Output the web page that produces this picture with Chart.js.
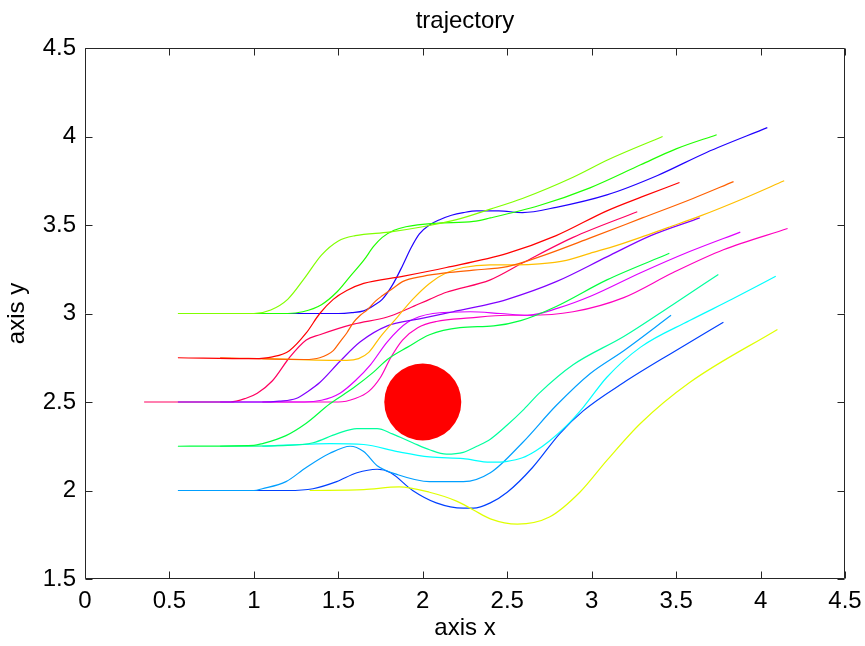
<!DOCTYPE html>
<html><head><meta charset="utf-8">
<script src="https://cdn.jsdelivr.net/npm/chart.js@4"></script>
<style>html,body{margin:0;padding:0;background:#fff}#wrap{width:865px;height:646px}</style>
</head><body><div id="wrap"><canvas id="c" width="865" height="646"></canvas></div>
<script>
const titleText = 'trajectory';
const xLabel = 'axis x';
const yLabel = 'axis y';
const xTicks = [0, 0.5, 1, 1.5, 2, 2.5, 3, 3.5, 4, 4.5];
const yTicks = [1.5, 2, 2.5, 3, 3.5, 4, 4.5];
const obstacleX = [2.0];
const obstacleY = [2.5];

const trajRedX = [0.55,1.0,1.11,1.21,1.31,1.39,1.47,1.55,1.65,1.88,2.14,2.5,2.79,3.09,3.3,3.52];
const trajRedY = [2.75,2.745,2.755,2.79,2.89,3.0,3.08,3.13,3.17,3.21,3.26,3.34,3.44,3.58,3.66,3.74];
const trajOrangeX = [0.8,1.3,1.39,1.47,1.51,1.55,1.59,1.63,1.67,1.72,1.76,1.82,1.88,2.0,2.14,2.3,2.5,2.69,3.0,3.3,3.6,3.84];
const trajOrangeY = [2.75,2.74,2.75,2.79,2.84,2.89,2.95,2.99,3.02,3.07,3.10,3.14,3.18,3.21,3.23,3.245,3.265,3.32,3.43,3.54,3.65,3.745];
const trajAmberX = [1.05,1.55,1.62,1.68,1.75,1.85,1.94,2.04,2.14,2.24,2.4,2.55,2.69,2.85,2.99,3.15,3.29,3.45,3.64,3.9,4.14];
const trajAmberY = [2.745,2.735,2.745,2.78,2.87,2.98,3.08,3.17,3.23,3.26,3.275,3.275,3.28,3.30,3.34,3.385,3.43,3.485,3.55,3.65,3.75];
const trajYellowX = [1.33,1.65,1.86,2.04,2.2,2.3,2.4,2.56,2.75,2.93,3.09,3.29,3.58,4.10];
const trajYellowY = [2.0,2.005,2.02,1.99,1.94,1.89,1.84,1.81,1.85,1.99,2.17,2.38,2.61,2.91];
const trajLimeX = [0.55,1.0,1.1,1.2,1.3,1.4,1.5,1.6,1.8,2.0,2.2,2.4,2.59,2.89,3.1,3.42];
const trajLimeY = [3.0,3.0,3.02,3.08,3.2,3.33,3.41,3.44,3.46,3.49,3.53,3.59,3.65,3.77,3.87,4.0];
const trajGreenX = [0.8,1.2,1.29,1.4,1.49,1.57,1.65,1.71,1.76,1.83,1.9,2.08,2.3,2.4,2.69,2.99,3.29,3.5,3.74];
const trajGreenY = [3.0,3.0,3.01,3.05,3.12,3.21,3.30,3.38,3.43,3.47,3.49,3.51,3.52,3.54,3.61,3.71,3.84,3.93,4.01];
const trajSpringX = [0.55,1.0,1.05,1.19,1.31,1.45,1.59,1.71,1.79,1.91,2.04,2.22,2.42,2.58,2.79,3.09,3.46];
const trajSpringY = [2.25,2.255,2.265,2.31,2.38,2.49,2.58,2.67,2.74,2.81,2.88,2.92,2.93,2.96,3.04,3.19,3.34];
const trajAquaX = [0.8,1.2,1.35,1.49,1.61,1.73,1.82,1.94,2.04,2.14,2.24,2.32,2.40,2.50,2.60,2.69,2.89,3.19,3.48,3.75];
const trajAquaY = [2.25,2.255,2.27,2.32,2.35,2.35,2.32,2.27,2.23,2.205,2.215,2.25,2.29,2.37,2.46,2.55,2.71,2.87,3.05,3.22];
const trajCyanX = [1.05,1.45,1.65,1.85,2.04,2.24,2.40,2.50,2.59,2.67,2.75,2.85,2.95,3.09,3.29,3.58,3.83,4.09];
const trajCyanY = [2.25,2.265,2.26,2.22,2.19,2.18,2.16,2.165,2.185,2.225,2.28,2.365,2.47,2.64,2.81,2.96,3.08,3.21];
const trajAzureX = [0.55,1.0,1.05,1.19,1.31,1.45,1.57,1.65,1.73,1.85,2.04,2.24,2.40,2.59,2.79,2.99,3.19,3.47];
const trajAzureY = [2.0,2.0,2.01,2.05,2.13,2.21,2.25,2.22,2.14,2.09,2.05,2.05,2.10,2.27,2.48,2.66,2.79,2.99];
const trajBlueX = [0.8,1.2,1.35,1.49,1.61,1.73,1.81,1.94,2.08,2.24,2.30,2.40,2.50,2.65,2.81,2.95,3.19,3.48,3.78];
const trajBlueY = [2.0,2.0,2.01,2.05,2.10,2.12,2.10,2.0,1.93,1.90,1.90,1.93,1.99,2.13,2.32,2.45,2.61,2.78,2.95];
const trajIndigoX = [1.05,1.5,1.58,1.65,1.71,1.76,1.82,1.88,1.93,1.98,2.04,2.10,2.17,2.24,2.32,2.45,2.59,2.79,3.09,3.39,3.68,4.04];
const trajIndigoY = [3.0,3.0,3.005,3.015,3.045,3.08,3.16,3.27,3.37,3.45,3.50,3.53,3.555,3.57,3.58,3.58,3.57,3.60,3.67,3.78,3.91,4.05];
const trajVioletX = [0.55,1.05,1.15,1.25,1.32,1.39,1.51,1.63,1.79,1.98,2.18,2.38,2.50,2.79,3.09,3.35,3.64];
const trajVioletY = [2.5,2.5,2.505,2.52,2.56,2.61,2.73,2.84,2.93,2.97,3.01,3.05,3.08,3.18,3.32,3.44,3.54];
const trajMagentaX = [0.8,1.3,1.4,1.51,1.6,1.69,1.79,1.91,2.06,2.28,2.46,2.62,2.8,3.0,3.29,3.58,3.88];
const trajMagentaY = [2.5,2.5,2.51,2.55,2.62,2.71,2.84,2.95,3.0,3.01,3.0,2.99,3.03,3.10,3.23,3.35,3.46];
const trajRoseX = [1.05,1.5,1.6,1.68,1.75,1.81,1.88,1.97,2.08,2.28,2.50,2.62,2.89,3.19,3.48,3.78,4.16];
const trajRoseY = [2.5,2.5,2.52,2.56,2.64,2.75,2.85,2.92,2.955,2.975,2.99,2.99,3.01,3.09,3.23,3.36,3.48];
const trajCrimsonX = [0.35,0.86,0.95,1.02,1.11,1.21,1.31,1.39,1.59,1.79,1.92,2.04,2.14,2.40,2.59,2.89,3.27];
const trajCrimsonY = [2.5,2.5,2.52,2.55,2.62,2.75,2.85,2.88,2.94,2.98,3.03,3.08,3.12,3.19,3.285,3.43,3.575];

const trajectories = [
  [trajRedX, trajRedY, '#ff0000'],
  [trajOrangeX, trajOrangeY, '#ff6000'],
  [trajAmberX, trajAmberY, '#ffbf00'],
  [trajYellowX, trajYellowY, '#dfff00'],
  [trajLimeX, trajLimeY, '#80ff00'],
  [trajGreenX, trajGreenY, '#20ff00'],
  [trajSpringX, trajSpringY, '#00ff40'],
  [trajAquaX, trajAquaY, '#00ff9f'],
  [trajCyanX, trajCyanY, '#00ffff'],
  [trajAzureX, trajAzureY, '#009fff'],
  [trajBlueX, trajBlueY, '#0040ff'],
  [trajIndigoX, trajIndigoY, '#2000ff'],
  [trajVioletX, trajVioletY, '#8000ff'],
  [trajMagentaX, trajMagentaY, '#df00ff'],
  [trajRoseX, trajRoseY, '#ff00bf'],
  [trajCrimsonX, trajCrimsonY, '#ff0060']
];

const FONT = '"Liberation Sans", Arial, Helvetica, sans-serif';
Chart.defaults.font.family = FONT;
Chart.defaults.color = '#000';

const datasets = trajectories.map(([xs, ys, c]) => ({
  type: 'line',
  data: xs.map((x, i) => ({x, y: ys[i]})),
  borderColor: c,
  backgroundColor: c,
  borderWidth: 1.2,
  pointRadius: 0,
  fill: false,
  cubicInterpolationMode: 'monotone'
}));
datasets.push({
  type: 'scatter',
  data: obstacleX.map((x, i) => ({x, y: obstacleY[i]})),
  backgroundColor: '#ff0000',
  borderWidth: 0,
  pointRadius: 38.5,
  pointHoverRadius: 38.5
});

const framePlugin = {
  id: 'frame',
  afterDatasetsDraw(chart) {
    const {ctx, chartArea: a, scales} = chart;
    const xs = scales.x, ys = scales.y;
    const L = Math.round(a.left) + 0.5, R = Math.round(a.right) - 0.5;
    const T = Math.round(a.top) + 0.5, B = Math.round(a.bottom) - 0.5;
    ctx.save();
    ctx.strokeStyle = '#262626';
    ctx.lineWidth = 1;
    ctx.beginPath();
    ctx.moveTo(L, T); ctx.lineTo(R, T); ctx.lineTo(R, B); ctx.lineTo(L, B); ctx.closePath();
    xTicks.forEach(v => {
      const p = Math.round(xs.getPixelForValue(v)) + 0.5;
      ctx.moveTo(p, B); ctx.lineTo(p, B - 7);
      ctx.moveTo(p, T); ctx.lineTo(p, T + 7);
    });
    yTicks.forEach(v => {
      const p = Math.round(ys.getPixelForValue(v)) + 0.5;
      ctx.moveTo(L, p); ctx.lineTo(L + 7, p);
      ctx.moveTo(R, p); ctx.lineTo(R - 7, p);
    });
    ctx.stroke();
    ctx.fillStyle = '#000';
    ctx.font = '24px ' + FONT;
    ctx.textAlign = 'center';
    ctx.textBaseline = 'alphabetic';
    ctx.fillText(titleText, (a.left + a.right) / 2, 28);
    ctx.restore();
  }
};

const fmt = v => String(Math.round(v * 100) / 100);

new Chart(document.getElementById('c'), {
  type: 'line',
  data: {datasets},
  options: {
    responsive: false,
    animation: false,
    events: [],
    layout: {autoPadding: false, padding: {top: 48, right: 20, left: 0, bottom: 0}},
    plugins: {legend: {display: false}, tooltip: {enabled: false}, title: {display: false}},
    scales: {
      x: {
        type: 'linear', min: 0, max: 4.5,
        afterBuildTicks: s => { s.ticks = xTicks.map(v => ({value: v})); },
        ticks: {font: {size: 24}, color: '#000', padding: 8, autoSkip: false, maxRotation: 0, callback: fmt},
        grid: {display: false, drawTicks: false},
        border: {display: false},
        title: {display: true, text: xLabel, font: {size: 24}, color: '#000', padding: {top: 0, bottom: 3}},
        afterFit: s => { s.height = 67; s.paddingLeft = 0; s.paddingRight = 0; }
      },
      y: {
        type: 'linear', min: 1.5, max: 4.5,
        afterBuildTicks: s => { s.ticks = yTicks.map(v => ({value: v})); },
        ticks: {font: {size: 24}, color: '#000', padding: 9, autoSkip: false, callback: fmt},
        grid: {display: false, drawTicks: false},
        border: {display: false},
        title: {display: true, text: yLabel, font: {size: 24}, color: '#000', padding: {top: 3, bottom: 0}},
        afterFit: s => { s.width = 85; s.paddingTop = 0; s.paddingBottom = 0; }
      }
    }
  },
  plugins: [framePlugin]
});
</script>
</body></html>
